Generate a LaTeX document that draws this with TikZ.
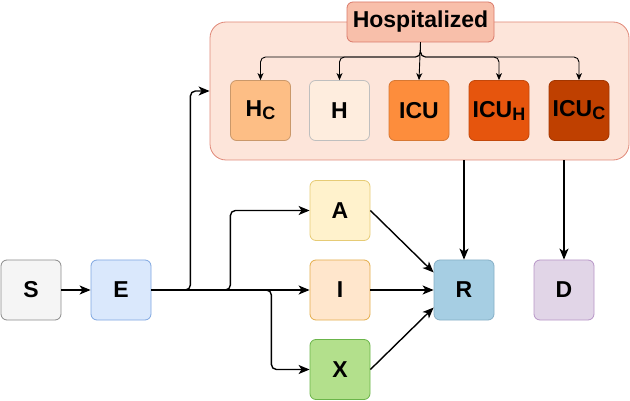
\documentclass[tikz,border=0pt]{standalone}
\usepackage{fontspec}
\setmainfont{Liberation Sans}
\usepackage{tikz}
\usetikzlibrary{arrows.meta}
\usepackage{xcolor}

\definecolor{sfill}{HTML}{F5F5F5}\definecolor{sline}{HTML}{8A8A8A}
\definecolor{efill}{HTML}{DAE8FC}\definecolor{eline}{HTML}{7EA6E0}
\definecolor{afill}{HTML}{FFF2CC}\definecolor{aline}{HTML}{E6CB75}
\definecolor{ifill}{HTML}{FFE6CC}\definecolor{iline}{HTML}{E3AD4A}
\definecolor{xfill}{HTML}{B3E08C}\definecolor{xline}{HTML}{6BB54A}
\definecolor{rfill}{HTML}{A6CEE3}\definecolor{rline}{HTML}{86AFC6}
\definecolor{dfill}{HTML}{E1D5E7}\definecolor{dline}{HTML}{B795C7}
\definecolor{hospfill}{HTML}{FDE5DA}\definecolor{hospline}{HTML}{E08878}
\definecolor{hlabfill}{HTML}{F8BFAA}\definecolor{hlabline}{HTML}{D9796A}
\definecolor{hcfill}{HTML}{FDBE85}\definecolor{hfill}{HTML}{FEEDDE}
\definecolor{icufill}{HTML}{FD8D3C}\definecolor{icuhfill}{HTML}{E6550D}
\definecolor{icucfill}{HTML}{BF4000}

\newcommand{\lsub}[1]{\raisebox{-3pt}{\fontsize{18}{18}\selectfont#1}}

\tikzset{
  comp/.style={draw, line width=0.8pt, rounded corners=6pt, minimum width=60pt,
    minimum height=60pt, inner sep=0pt, font=\bfseries\fontsize{23}{23}\selectfont},
  flow/.style={line width=1.4pt, -{Stealth[length=11pt,width=9pt,inset=3pt]}, rounded corners=5pt},
  branch/.style={line width=0.9pt, -{Stealth[length=7pt,width=6pt,inset=2pt]}, rounded corners=5pt}
}

\begin{document}
\begin{tikzpicture}[x=1pt, y=-1pt]
\useasboundingbox (0,0) rectangle (630,401);

\node[draw=hospline, fill=hospfill, line width=0.8pt, rounded corners=16pt,
  minimum width=419pt, minimum height=138pt] (hosp) at (419.5,91) {};
\node[comp, draw=hlabline, fill=hlabfill, minimum width=147pt, minimum height=40pt] (hlab) at (420.5,22) {Hospitalized};
\coordinate (split) at (421,57);

\node[comp, draw=hcfill!80!black, fill=hcfill] (hc) at (260.5,110.5) {H\lsub{C}};
\node[comp, draw=black!25, fill=hfill] (h) at (339.5,110.5) {H};
\node[comp, draw=icufill!85!black, fill=icufill] (icu) at (419,110.5) {ICU};
\node[comp, draw=icuhfill!85!black, fill=icuhfill] (icuh) at (499,110.5) {ICU\lsub{H}};
\node[comp, draw=icucfill!85!black, fill=icucfill] (icuc) at (579,110.5) {ICU\lsub{C}};

\node[comp, draw=sline, fill=sfill] (S) at (31,290) {S};
\node[comp, draw=eline, fill=efill] (E) at (121,290) {E};
\node[comp, draw=aline, fill=afill] (A) at (340,210.5) {A};
\node[comp, draw=iline, fill=ifill] (I) at (340,290) {I};
\node[comp, draw=xline, fill=xfill] (X) at (340,369.5) {X};
\node[comp, draw=rline, fill=rfill] (R) at (464,290) {R};
\node[comp, draw=dline, fill=dfill] (D) at (564,290) {D};

\draw[branch] (hlab.south) |- (hc.north |- split) -- (hc.north);
\draw[branch] (hlab.south) |- (h.north |- split) -- (h.north);
\draw[branch] (hlab.south) -- (icu.north);
\draw[branch] (hlab.south) |- (icuh.north |- split) -- (icuh.north);
\draw[branch] (hlab.south) |- (icuc.north |- split) -- (icuc.north);

\draw[flow] (S) -- (E);
\draw[flow] (E) -- (I);
\draw[flow] (E.east) -- ++(39,0) |- (hosp.west);
\draw[flow] (E.east) -- ++(79,0) |- (A.west);
\draw[flow] (E.east) -- ++(120,0) |- (X.west);
\draw[flow] (A.east) -- (R.150);
\draw[flow] (I) -- (R);
\draw[flow] (X.east) -- (R.210);
\draw[flow] (R.north |- hosp.south) -- (R.north);
\draw[flow] (D.north |- hosp.south) -- (D.north);
\end{tikzpicture}
\end{document}
